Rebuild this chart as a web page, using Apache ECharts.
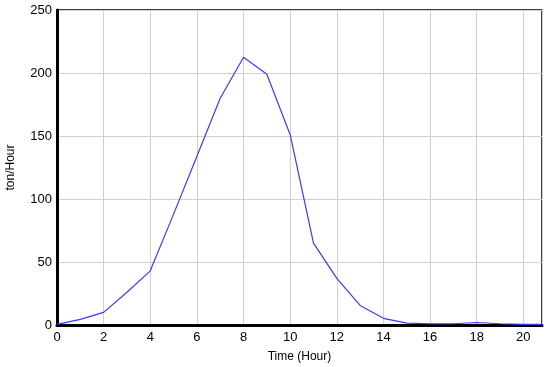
<!DOCTYPE html>
<html><head><meta charset="utf-8">
<script src="https://cdn.jsdelivr.net/npm/echarts@6/dist/echarts.min.js"></script>
<style>html,body{margin:0;padding:0;background:#fff}#c{width:550px;height:367px}</style>
</head><body><div id="c"></div>
<script>
const hours = [0, 1, 2, 3, 4, 5, 6, 7, 8, 9, 10, 11, 12, 13, 14, 15, 16, 17, 18, 19, 20, 20.8];
const flow = [0.5, 4.5, 10, 26, 43, 88, 134, 180, 212.5, 199, 151, 65, 37, 15.5, 5.3, 1.5, 1, 1, 2, 1, 0.5, 0.5];
const xTicks = { min: 0, max: 20.8, interval: 2 };
const yTicks = { min: 0, max: 250, interval: 50 };
const xName = 'Time (Hour)';
const yName = 'ton/Hour';

const chart = echarts.init(document.getElementById('c'), null, {renderer: 'canvas'});
const font = 'Liberation Sans, Arial, sans-serif';
chart.setOption({
  animation: false,
  grid: { left: 57, right: 8, top: 10, bottom: 42, show: true, borderColor: '#000', borderWidth: 1.5, backgroundColor: 'transparent', containLabel: false, outerBoundsMode: 'none' },
  xAxis: {
    type: 'value', min: xTicks.min, max: xTicks.max, interval: xTicks.interval,
    name: xName, nameLocation: 'middle', nameGap: 26,
    nameTextStyle: { fontFamily: font, fontSize: 12, color: '#000' },
    axisLine: { show: true, onZero: false, lineStyle: { color: '#000', width: 3 } },
    axisTick: { show: false },
    axisLabel: { fontFamily: font, fontSize: 13, color: '#000', margin: 6, showMaxLabel: false },
    splitLine: { show: true, lineStyle: { color: '#d0d0d0', width: 1 } }
  },
  yAxis: {
    type: 'value', min: yTicks.min, max: yTicks.max, interval: yTicks.interval,
    name: yName, nameLocation: 'middle', nameGap: 40, nameRotate: 90,
    nameTextStyle: { fontFamily: font, fontSize: 12, color: '#000' },
    axisLine: { show: true, lineStyle: { color: '#000', width: 3 } },
    axisTick: { show: false },
    axisLabel: { fontFamily: font, fontSize: 13, color: '#000', margin: 5 },
    splitLine: { show: true, lineStyle: { color: '#d0d0d0', width: 1 } }
  },
  series: [{
    type: 'line',
    data: hours.map((h, i) => [h, flow[i]]),
    showSymbol: false,
    lineStyle: { color: '#3a3aff', width: 1.2 },
    clip: true
  }]
});
</script></body></html>
